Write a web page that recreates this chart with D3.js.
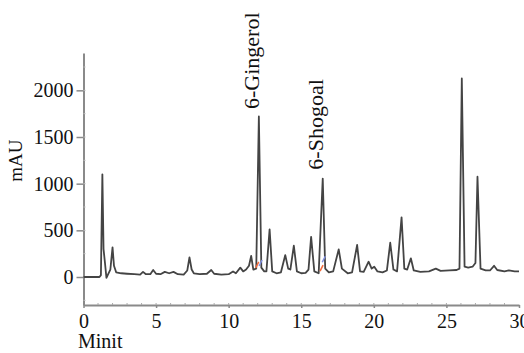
<!DOCTYPE html>
<html>
<head>
<meta charset="utf-8">
<script src="https://cdn.jsdelivr.net/npm/d3@7"></script>
<style>
  body { margin: 0; background: #fff; }
  svg { display: block; font-family: "Liberation Serif", "DejaVu Serif", serif; }
</style>
</head>
<body>
<svg id="fig1" width="524" height="353"></svg>
<script>
// chromatogram trace (time in min, signal in mAU)
const traceTime = [0, 1.1, 1.2, 1.3, 1.38, 1.48, 1.58, 1.7, 1.85, 2.0, 2.1, 2.25, 2.6, 3.0, 3.5, 3.9, 4.1, 4.3, 4.6, 4.8,
  5.0, 5.3, 5.6, 5.9, 6.2, 6.5, 6.9, 7.15, 7.3, 7.45, 7.6, 8.0, 8.5, 8.8, 9.0, 9.5, 10.0, 10.3, 10.5, 10.8,
  11.0, 11.2, 11.4, 11.55, 11.7, 11.9, 12.08, 12.25, 12.45, 12.6, 12.82, 13.0, 13.3, 13.6, 13.9, 14.1, 14.25, 14.49, 14.7, 15.0,
  15.3, 15.5, 15.68, 15.9, 16.2, 16.48, 16.65, 16.9, 17.2, 17.58, 17.8, 18.2, 18.5, 18.85, 19.05, 19.3, 19.64, 19.85, 20.03, 20.25,
  20.6, 20.9, 21.13, 21.35, 21.6, 21.91, 22.1, 22.3, 22.55, 22.75, 23.2, 23.8, 24.27, 24.6, 25.2, 25.7, 25.9, 26.06, 26.25, 26.5,
  26.8, 27.0, 27.14, 27.35, 27.7, 28.0, 28.28, 28.5, 29.0, 29.3, 29.7, 30];
const traceMAU = [0, 0, 20, 1100, 300, 150, -10, 30, 80, 318, 120, 50, 40, 35, 30, 25, 55, 30, 30, 75,
  35, 30, 55, 40, 55, 30, 25, 70, 210, 80, 40, 30, 35, 75, 35, 25, 30, 60, 40, 100,
  60, 80, 120, 225, 80, 90, 1720, 100, 60, 60, 510, 60, 40, 50, 235, 90, 80, 335, 60, 40,
  45, 80, 430, 60, 40, 1055, 90, 50, 60, 296, 90, 40, 50, 343, 60, 55, 164, 90, 110, 60,
  50, 70, 367, 80, 60, 639, 90, 80, 200, 70, 55, 60, 90, 65, 70, 75, 90, 2127, 110, 100,
  110, 150, 1074, 90, 70, 70, 120, 75, 60, 70, 60, 60];

// peak labels
const peakNames = ['6-Gingerol', '6-Shogoal'];
const peakTimes = [12.08, 16.48];
const peakLabelMAU = [1800, 1150];

// integration marks at the base of the labelled peaks
const markTimes = [11.97, 12.2, 16.4, 16.55];
const markMAU = [130, 150, 95, 190];
const markColors = ['#f06a3c', '#7f8fe0', '#f06a3c', '#7f8fe0'];

const xTicks = [0, 5, 10, 15, 20, 25, 30];
const yTicks = [0, 500, 1000, 1500, 2000];

const draw1 = () => {
    const chart = d3.select('#fig1');
    const x = d3.scaleLinear().domain([0, 30]).range([83.5, 519]);
    const y = d3.scaleLinear().domain([-300, 2400]).range([305, 53]);

    const axisColor = '#8a8a8a';

    // y axis
    const yAxis = chart.append('g').attr('transform', `translate(${x(0)},0)`);
    yAxis.call(d3.axisLeft(y).tickValues(yTicks).tickFormat(d3.format('d'))
        .tickSize(7).tickSizeOuter(0).tickPadding(3));
    yAxis.select('.domain').attr('stroke', axisColor).attr('stroke-width', 2);
    yAxis.selectAll('.tick line').attr('stroke', axisColor).attr('stroke-width', 1.5);
    yAxis.selectAll('.tick text').attr('font-size', 20).attr('fill', '#111')
        .attr('font-family', '"Liberation Serif", serif');
    yAxis.append('g').selectAll('line').data(d3.range(-250, 2400, 250)).join('line')
        .attr('x1', 0).attr('x2', 2).attr('y1', d => y(d)).attr('y2', d => y(d))
        .attr('stroke', '#bbb').attr('stroke-width', 1);

    // x axis
    const xAxis = chart.append('g').attr('transform', `translate(0,${y(-300)})`);
    xAxis.call(d3.axisBottom(x).tickValues(xTicks).tickFormat(d3.format('d'))
        .tickSize(3).tickSizeOuter(0).tickPadding(6));
    xAxis.select('.domain').attr('stroke', axisColor).attr('stroke-width', 2);
    xAxis.selectAll('.tick line').attr('stroke', axisColor).attr('stroke-width', 1.5);
    xAxis.selectAll('.tick text').attr('font-size', 20).attr('fill', '#111')
        .attr('font-family', '"Liberation Serif", serif');
    xAxis.append('g').selectAll('line').data(d3.range(1, 30)).join('line')
        .attr('x1', d => x(d)).attr('x2', d => x(d)).attr('y1', 0).attr('y2', -2)
        .attr('stroke', '#aaa').attr('stroke-width', 1);

    // axis titles
    chart.append('text')
        .attr('x', 78).attr('y', 348)
        .attr('font-size', 20).attr('fill', '#111')
        .text('Minit');
    chart.append('text')
        .attr('transform', `translate(22,${y(1000) - 23}) rotate(-90)`)
        .attr('text-anchor', 'middle')
        .attr('font-size', 19).attr('fill', '#111')
        .text('mAU');

    // trace
    const traceData = traceTime.map((t, i) => ({ t: t, v: traceMAU[i] }));
    const line = d3.line().x(d => x(d.t)).y(d => y(d.v));
    chart.append('path')
        .datum(traceData)
        .attr('d', line)
        .attr('fill', 'none')
        .attr('stroke', '#444')
        .attr('stroke-width', 1.8)
        .attr('stroke-linejoin', 'round');

    // integration marks
    chart.append('g').selectAll('line').data(markTimes).join('line')
        .attr('x1', d => x(d) - 1.5).attr('x2', d => x(d) + 1.5)
        .attr('y1', (d, i) => y(markMAU[i]) + 3).attr('y2', (d, i) => y(markMAU[i]) - 3)
        .attr('stroke', (d, i) => markColors[i])
        .attr('stroke-width', 1.5);

    // peak labels
    chart.append('g').selectAll('text').data(peakNames).join('text')
        .attr('transform', (d, i) => `translate(${x(peakTimes[i]) + 0.5},${y(peakLabelMAU[i])}) rotate(-90)`)
        .attr('font-size', 22).attr('fill', '#111')
        .text(d => d);
};
draw1();
</script>
</body>
</html>
